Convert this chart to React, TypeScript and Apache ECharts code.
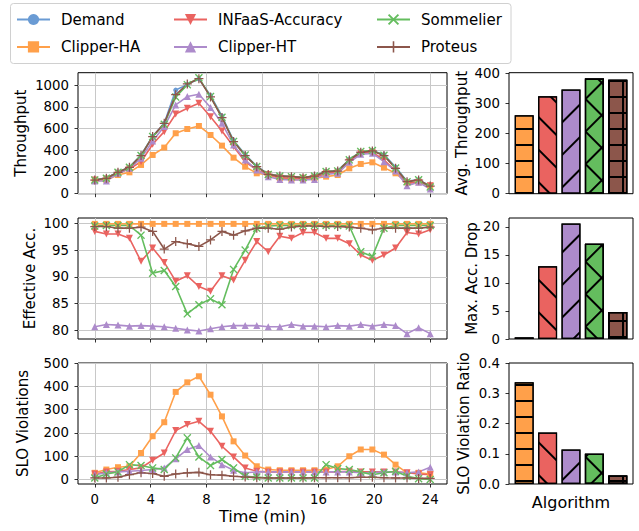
import React, { useEffect, useRef } from 'react';
import * as echarts from 'echarts';

// ---- data ----
const times = [0, 0.83, 1.66, 2.48, 3.31, 4.14, 4.97, 5.79, 6.62, 7.45, 8.28, 9.1, 9.93, 10.76, 11.59, 12.41, 13.24, 14.07, 14.9, 15.72, 16.55, 17.38, 18.21, 19.03, 19.86, 20.69, 21.52, 22.34, 23.17, 24];
const xTicks = [0, 4, 8, 12, 16, 20, 24];

// Throughput
const thrDemand = [128, 145, 200, 245, 355, 530, 648, 955, 1005, 1058, 905, 715, 490, 360, 255, 180, 165, 158, 150, 165, 205, 212, 315, 385, 398, 360, 245, 115, 130, 70];
const thrClipperHA = [117, 126, 172, 197, 265, 357, 425, 557, 596, 624, 541, 443, 332, 249, 188, 172, 142, 132, 132, 142, 157, 172, 234, 274, 289, 240, 188, 105, 105, 74];
const thrInfaas = [126, 135, 188, 228, 295, 455, 572, 734, 787, 833, 710, 578, 434, 295, 218, 178, 148, 142, 142, 148, 188, 197, 295, 372, 382, 311, 209, 95, 105, 74];
const thrClipperHT = [117, 117, 188, 234, 326, 486, 619, 818, 895, 917, 794, 649, 449, 311, 218, 157, 132, 126, 126, 132, 178, 188, 289, 363, 372, 295, 209, 74, 105, 43];
const thrSommelier = [126, 142, 198, 243, 352, 526, 640, 890, 1005, 1068, 895, 705, 482, 357, 250, 178, 163, 157, 150, 163, 204, 210, 312, 390, 398, 355, 236, 110, 128, 62];
const thrProteus = [126, 142, 197, 243, 351, 526, 649, 912, 1011, 1060, 892, 702, 480, 351, 249, 178, 163, 157, 148, 163, 203, 209, 311, 382, 394, 351, 234, 111, 126, 70];

// Effective accuracy
const accClipperHA = [99.9, 99.9, 99.9, 99.9, 99.9, 99.9, 99.9, 99.9, 99.9, 99.9, 99.9, 99.9, 99.9, 99.9, 99.9, 99.9, 99.9, 99.9, 99.9, 99.9, 99.9, 99.9, 99.9, 99.9, 99.9, 99.9, 99.9, 99.9, 99.9, 99.9];
const accInfaas = [98.5, 98.0, 98.0, 97.2, 92.9, 95.4, 92.7, 89.2, 90.2, 88.2, 87.3, 90.2, 89.4, 93.1, 96.6, 94.7, 97.6, 97.2, 98.3, 98.3, 97.2, 97.2, 96.2, 94.1, 93.1, 94.1, 95.4, 98.3, 98.0, 98.8];
const accClipperHT = [80.7, 81.1, 81.0, 80.8, 80.9, 80.8, 80.7, 80.4, 80.1, 79.9, 80.3, 80.7, 80.9, 80.9, 80.9, 80.7, 80.7, 81.1, 80.8, 80.8, 80.7, 80.9, 80.8, 81.1, 80.8, 81.1, 80.9, 79.4, 80.5, 79.4];
const accSommelier = [99.5, 99.6, 99.6, 99.6, 97.8, 90.7, 91.2, 88.2, 83.1, 84.8, 85.9, 84.8, 91.4, 95.0, 99.1, 99.5, 99.6, 99.6, 99.6, 99.6, 99.6, 99.6, 99.5, 94.7, 93.8, 99.1, 99.6, 99.6, 99.6, 99.6];
const accProteus = [99.4, 99.4, 99.1, 99.1, 99.3, 98.5, 95.2, 96.6, 96.2, 95.7, 96.9, 98.5, 97.8, 98.6, 99.1, 99.1, 98.9, 99.3, 99.5, 99.5, 99.4, 99.4, 99.3, 99.1, 98.8, 99.1, 99.1, 99.1, 99.1, 99.3];

// SLO violations
const sloClipperHA = [29, 43, 53, 57, 114, 186, 246, 376, 417, 443, 364, 271, 164, 103, 57, 43, 40, 40, 40, 40, 43, 57, 100, 129, 129, 107, 64, 29, 29, 24];
const sloInfaas = [24, 33, 36, 43, 50, 83, 114, 210, 236, 250, 207, 143, 97, 50, 36, 33, 33, 33, 33, 33, 33, 33, 36, 33, 33, 33, 33, 29, 24, 21];
const sloClipperHT = [21, 29, 33, 36, 39, 43, 50, 89, 129, 146, 97, 64, 40, 29, 33, 33, 33, 33, 33, 33, 33, 33, 33, 29, 29, 33, 33, 29, 33, 53];
const sloSommelier = [7, 24, 33, 64, 60, 50, 43, 93, 179, 97, 60, 86, 50, 14, 11, 7, 7, 7, 7, 7, 64, 47, 43, 33, 21, 29, 36, 14, 4, 0];
const sloProteus = [7, 7, 10, 21, 29, 26, 14, 24, 29, 31, 21, 19, 14, 11, 8, 7, 7, 7, 7, 8, 8, 8, 8, 10, 10, 8, 7, 7, 5, 5];

// Bar panels (order: Clipper-HA, INFaaS-Accuracy, Clipper-HT, Sommelier, Proteus)
const barNames = ['Clipper-HA', 'INFaaS-Accuracy', 'Clipper-HT', 'Sommelier', 'Proteus'];
const barPositions = [0, 1, 2, 3, 4];
const avgThroughput = [260, 323, 345, 382, 378];
const maxAccDrop = [0.3, 13.0, 20.6, 17.0, 4.8];
const sloRatio = [0.336, 0.17, 0.114, 0.1, 0.028];

// ---- styles ----
const FONT = 'DejaVu Sans';
const colors: Record<string, string> = {
  'Demand': '#6a9bd4',
  'Clipper-HA': '#ffa04a',
  'INFaaS-Accuracy': '#ea6360',
  'Clipper-HT': '#ad8bcb',
  'Sommelier': '#64bd5e',
  'Proteus': '#8c564b',
};
const XPATH = 'path://M0,1.2L1.2,0L5,3.8L8.8,0L10,1.2L6.2,5L10,8.8L8.8,10L5,6.2L1.2,10L0,8.8L3.8,5Z';
const PPATH = 'path://M4.3,0H5.7V4.3H10V5.7H5.7V10H4.3V5.7H0V4.3H4.3Z';
const symbols: Record<string, any> = {
  'Demand': { symbol: 'circle', symbolSize: 5 },
  'Clipper-HA': { symbol: 'rect', symbolSize: 6 },
  'INFaaS-Accuracy': { symbol: 'triangle', symbolSize: 7, symbolRotate: 180 },
  'Clipper-HT': { symbol: 'triangle', symbolSize: 7 },
  'Sommelier': { symbol: XPATH, symbolSize: 8 },
  'Proteus': { symbol: PPATH, symbolSize: 9 },
};
const hatch = (rotation: number, gap: number) => ({ symbol: 'rect', symbolSize: 1, dashArrayX: [1, 0], dashArrayY: [2, gap], color: '#000', rotation });
const H_LINES = hatch(0, 14);
const V_LINES = hatch(Math.PI / 2, 14);
const BACK = hatch(Math.PI / 4, 21);
const FWD = hatch(-Math.PI / 4, 21);
// base hatch per bar, plus overlay hatch for the crossed patterns
const baseDecals: any[] = [H_LINES, BACK, FWD, FWD, H_LINES];
const overlayDecals: any[] = [null, null, null, BACK, V_LINES];

const LEFT = 78, LW = 369, RIGHT = 509, RW = 124, H = 121;
const TOPS = [72.7, 218, 363];

function lineSeries(name: string, values: number[], axis: number) {
  const s = symbols[name];
  return {
    type: 'line', name, xAxisIndex: axis, yAxisIndex: axis,
    data: times.map((t, i) => [t, values[i]]),
    symbol: s.symbol, symbolSize: s.symbolSize, symbolRotate: s.symbolRotate || 0,
    lineStyle: { color: colors[name], width: 1.6 },
    itemStyle: { color: colors[name] },
    emphasis: { disabled: true },
  };
}

function barSeries(values: number[], axis: number) {
  return {
    type: 'bar', name: 'bars' + axis, xAxisIndex: axis, yAxisIndex: axis,
    barWidth: 19, barGap: '-100%',
    data: barPositions.map((p, i) => ({
      value: [p, values[i]],
      itemStyle: { color: colors[barNames[i]], borderColor: '#000', borderWidth: 1.2, decal: baseDecals[i] },
    })),
    emphasis: { disabled: true },
  };
}
function barOverlay(values: number[], axis: number) {
  const idx = barPositions.filter((p, i) => overlayDecals[i]);
  return {
    type: 'bar', name: 'overlay' + axis, xAxisIndex: axis, yAxisIndex: axis,
    barWidth: 19, barGap: '-100%', z: 3,
    data: idx.map((p) => ({
      value: [p, values[p]],
      itemStyle: { color: 'rgba(0,0,0,0)', borderColor: '#000', borderWidth: 1.2, decal: overlayDecals[p] },
    })),
    emphasis: { disabled: true },
  };
}

const tickLabel = { color: '#000', fontSize: 13.3, fontFamily: FONT };
const tickStyle = { show: true, inside: false, length: 3.5, lineStyle: { color: '#000', width: 0.8 } };
const noLine = { show: false, onZero: false };

function leftX(i: number) {
  return {
    type: 'value', gridIndex: i, min: -1.2, max: 25.2,
    axisLine: noLine,
    axisTick: { ...tickStyle, customValues: xTicks },
    axisLabel: { show: i === 2, customValues: xTicks, margin: 9, ...tickLabel, formatter: (v: number) => String(v) },
    splitLine: { show: true, lineStyle: { color: '#c8c8c8', width: 1 } },
    name: i === 2 ? 'Time (min)' : '', nameLocation: 'middle', nameGap: 24, nameMoveOverlap: false,
    nameTextStyle: { color: '#000', fontSize: 16, fontFamily: FONT },
  };
}
function rightX(i: number) {
  return {
    type: 'value', gridIndex: i, min: -0.65, max: 4.65,
    axisLine: noLine, axisTick: { show: false }, axisLabel: { show: false }, splitLine: { show: false },
    name: i === 5 ? 'Algorithm' : '', nameLocation: 'middle', nameGap: 10, nameMoveOverlap: false,
    nameTextStyle: { color: '#000', fontSize: 16, fontFamily: FONT },
  };
}
function yAx(i: number, name: string, min: number, max: number, ticks: number[], grid: boolean, gap: number, fmt?: (v: number) => string) {
  return {
    type: 'value', gridIndex: i, min, max,
    axisLine: noLine,
    axisTick: { ...tickStyle, customValues: ticks },
    axisLabel: { customValues: ticks, margin: 9, ...tickLabel, formatter: fmt || ((v: number) => String(v)) },
    splitLine: { show: grid, lineStyle: { color: '#c8c8c8', width: 1 } },
    name, nameLocation: 'middle', nameGap: gap, nameMoveOverlap: false,
    nameTextStyle: { color: '#000', fontSize: 15, fontFamily: FONT },
  };
}

function makeOption() {
  const grids = [0, 1, 2].map((r) => ({ left: LEFT, top: TOPS[r], width: LW, height: H }))
    .concat([0, 1, 2].map((r) => ({ left: RIGHT, top: TOPS[r], width: RW, height: H })))
    .map((g) => ({ ...g, show: true, borderColor: '#000', borderWidth: 1, backgroundColor: 'transparent', containLabel: false, outerBoundsMode: 'none' }));

  const legendBase = {
    orient: 'vertical', itemWidth: 33, itemHeight: 14, itemGap: 12.4, padding: 0,
    textStyle: { color: '#000', fontSize: 15, fontFamily: FONT, padding: [0, 0, 0, 6] },
    top: 12, selectedMode: false,
  };

  return {
    animation: false,
    backgroundColor: '#fff',
    graphic: [{
      type: 'rect', z: 0,
      shape: { x: 10.5, y: 3.5, width: 500.5, height: 60, r: 3 },
      style: { fill: 'rgba(255,255,255,0.8)', stroke: '#d0d0d0', lineWidth: 1 },
    }],
    legend: [
      { ...legendBase, left: 16, data: ['Demand', 'Clipper-HA'] },
      { ...legendBase, left: 173, data: ['INFaaS-Accuracy', 'Clipper-HT'] },
      { ...legendBase, left: 376, data: ['Sommelier', 'Proteus'] },
    ],
    grid: grids,
    xAxis: [leftX(0), leftX(1), leftX(2), rightX(3), rightX(4), rightX(5)],
    yAxis: [
      yAx(0, 'Throughput', 0, 1115, [0, 200, 400, 600, 800, 1000], true, 50),
      yAx(1, 'Effective Acc.', 78.4, 101, [80, 85, 90, 95, 100], true, 41),
      yAx(2, 'SLO Violations', -19, 500, [0, 100, 200, 300, 400, 500], true, 48),
      yAx(3, 'Avg. Throughput', 0, 401, [0, 100, 200, 300, 400], false, 40),
      yAx(4, 'Max. Acc. Drop', 0, 21.6, [0, 5, 10, 15, 20], false, 30),
      yAx(5, 'SLO Violation Ratio', 0, 0.4, [0, 0.1, 0.2, 0.3, 0.4], false, 38, (v: number) => v.toFixed(1)),
    ],
    series: [
      lineSeries('Demand', thrDemand, 0),
      lineSeries('Clipper-HA', thrClipperHA, 0),
      lineSeries('INFaaS-Accuracy', thrInfaas, 0),
      lineSeries('Clipper-HT', thrClipperHT, 0),
      lineSeries('Sommelier', thrSommelier, 0),
      lineSeries('Proteus', thrProteus, 0),
      lineSeries('Clipper-HA', accClipperHA, 1),
      lineSeries('INFaaS-Accuracy', accInfaas, 1),
      lineSeries('Clipper-HT', accClipperHT, 1),
      lineSeries('Sommelier', accSommelier, 1),
      lineSeries('Proteus', accProteus, 1),
      lineSeries('Clipper-HA', sloClipperHA, 2),
      lineSeries('INFaaS-Accuracy', sloInfaas, 2),
      lineSeries('Clipper-HT', sloClipperHT, 2),
      lineSeries('Sommelier', sloSommelier, 2),
      lineSeries('Proteus', sloProteus, 2),
      barSeries(avgThroughput, 3),
      barOverlay(avgThroughput, 3),
      barSeries(maxAccDrop, 4),
      barOverlay(maxAccDrop, 4),
      barSeries(sloRatio, 5),
      barOverlay(sloRatio, 5),
    ],
  };
}

export default function App() {
  const ref = useRef<HTMLDivElement>(null);
  useEffect(() => {
    const chart = echarts.init(ref.current!, null, { renderer: 'svg' });
    chart.setOption(makeOption() as any);
    return () => chart.dispose();
  }, []);
  return <div ref={ref} style={{ position: 'absolute', left: 0, top: 0, width: 639, height: 531 }} />;
}
